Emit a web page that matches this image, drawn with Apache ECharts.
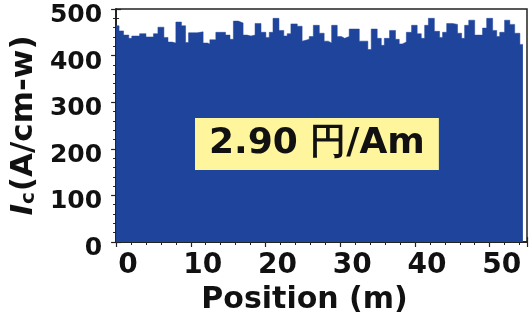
<!DOCTYPE html>
<html><head><meta charset="utf-8">
<script src="https://cdn.jsdelivr.net/npm/echarts@6/dist/echarts.min.js"></script>
<style>html,body{margin:0;padding:0;background:#fff}#c{width:530px;height:320px}</style>
</head><body><div id="c"></div>
<script>
// step start positions (m) and Ic values (A/cm-w)
const positions = [0,0.4,1.0,1.7,2.1,3.15,4.0,5.0,5.6,6.4,6.95,7.5,8.0,8.75,9.3,9.7,10.85,11.65,12.25,12.55,13.35,14.65,15.25,15.7,16.35,17.0,17.55,18.05,18.6,19.4,20.05,20.5,21.0,21.8,22.45,22.9,23.4,24.25,24.9,25.15,25.85,26.4,27.2,27.85,28.4,28.85,29.6,30.15,30.6,31.2,32.55,33.7,34.15,34.95,35.5,35.9,36.6,37.4,37.9,38.3,38.85,39.55,40.3,40.85,41.3,41.8,42.6,43.3,43.7,44.25,45.05,45.7,46.25,46.65,47.2,48.0,49.05,49.6,50.4,50.95,51.35,52.0,52.7,53.35,54.05];
const values = [464,453,444,437,442,447,440,447,461,439,429,427,472,464,428,449,451,427,425,434,450,444,435,474,470,444,442,444,469,450,439,450,480,454,442,447,468,463,431,435,441,465,448,431,427,465,441,437,441,457,431,413,457,437,422,437,454,435,425,429,450,465,447,437,465,480,452,439,450,469,467,448,437,465,476,444,459,480,454,441,450,476,467,448,424];
const endPosition = 54.45;
const xTicks = [0,10,20,30,40,50];
const yTicks = [0,100,200,300,400,500];
const annotation = '2.90 円/Am';

const data = positions.map((p,i)=>[p, values[i]]);
data.push([endPosition, values[values.length-1]]);

const FILL = '#1f449c';
const AX = '#222';
const font = 'DejaVu Sans';
const chart = echarts.init(document.getElementById('c'));
const tickCommon = {show:true, inside:true, length:5, lineStyle:{color:AX, width:1.2}};
const minorCommon = {show:true, splitNumber:5, length:3, lineStyle:{color:AX, width:1}};
chart.setOption({
  animation:false,
  grid:{left:116, right:2, top:9, bottom:78, show:true, borderColor:AX, borderWidth:1.5, backgroundColor:'transparent'},
  xAxis:[{
    type:'value', min:xTicks[0], max:55, interval:10, position:'bottom',
    axisLine:{show:true, lineStyle:{color:AX, width:1.5}},
    axisTick:tickCommon, minorTick:minorCommon, splitLine:{show:false},
    axisLabel:{fontFamily:font, fontWeight:'bold', fontSize:28, color:'#111', margin:10, padding:[0,0,0,24],
      formatter:v=>xTicks.includes(v)?String(v):''},
    name:'Position (m)', nameLocation:'middle', nameGap:40,
    nameTextStyle:{fontFamily:font, fontWeight:'bold', fontSize:30, color:'#111', padding:[0,34,0,0]}
  },{
    type:'value', min:xTicks[0], max:55, interval:10, position:'top',
    axisLine:{show:true, lineStyle:{color:AX, width:1.5}},
    axisTick:tickCommon, minorTick:minorCommon, splitLine:{show:false}, axisLabel:{show:false}
  }],
  yAxis:[{
    type:'value', min:yTicks[0], max:500, interval:100, position:'left',
    axisLine:{show:true, lineStyle:{color:AX, width:1.5}},
    axisTick:tickCommon, minorTick:minorCommon, splitLine:{show:false},
    axisLabel:{fontFamily:font, fontWeight:'bold', fontSize:25, color:'#111', margin:14,
      formatter:v=>yTicks.includes(v)?'{a|'+v+'}':'',
      rich:{a:{fontFamily:font, fontWeight:'bold', fontSize:25, color:'#111', padding:[13,0,0,0]}}},
    name:'{i|I}{s|c}{n|(A/cm-w)}', nameLocation:'middle', nameGap:74, nameRotate:90,
    nameTextStyle:{
      rich:{
        i:{fontFamily:font, fontWeight:'bold', fontStyle:'italic', fontSize:31, color:'#111'},
        s:{fontFamily:font, fontWeight:'bold', fontSize:20, color:'#111', verticalAlign:'bottom', padding:[8,1,0,0]},
        n:{fontFamily:font, fontWeight:'bold', fontSize:31, color:'#111'}
      }
    }
  },{
    type:'value', min:yTicks[0], max:500, interval:100, position:'right',
    axisLine:{show:true, lineStyle:{color:AX, width:1.5}},
    axisTick:tickCommon, minorTick:minorCommon, splitLine:{show:false}, axisLabel:{show:false}
  }],
  series:[{
    type:'line', step:'end', data:data, symbol:'none', xAxisIndex:0, yAxisIndex:0,
    lineStyle:{color:FILL, width:0.5}, areaStyle:{color:FILL, opacity:1}, z:1
  }],
  graphic:[{
    type:'text', left:195, top:118, z:10,
    style:{text:annotation, fontFamily:font, fontWeight:'bold', fontSize:36, fill:'#111',
      backgroundColor:'#fff59d', padding:[8,14,8,14]}
  }]
});
</script></body></html>
